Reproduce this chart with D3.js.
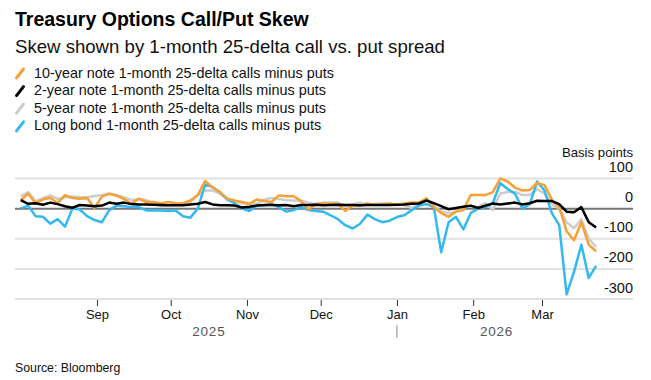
<!DOCTYPE html>
<html><head><meta charset="utf-8">
<script src="https://cdn.jsdelivr.net/npm/d3@7"></script>
<style>
body{margin:0;background:#fff;}
text{font-family:"Liberation Sans",Arial,Helvetica,sans-serif;}
</style></head><body>
<svg id="c" width="651" height="380"></svg>
<script>
const dates = ["2025-08-01","2025-08-04","2025-08-07","2025-08-10","2025-08-13","2025-08-16","2025-08-19","2025-08-22","2025-08-25","2025-08-28",
"2025-08-31","2025-09-03","2025-09-06","2025-09-09","2025-09-12","2025-09-15","2025-09-18","2025-09-21","2025-09-24","2025-09-27",
"2025-09-30","2025-10-03","2025-10-06","2025-10-09","2025-10-12","2025-10-15","2025-10-18","2025-10-21","2025-10-24","2025-10-27",
"2025-10-30","2025-11-02","2025-11-05","2025-11-08","2025-11-11","2025-11-14","2025-11-17","2025-11-20","2025-11-23","2025-11-26",
"2025-11-29","2025-12-02","2025-12-05","2025-12-08","2025-12-11","2025-12-14","2025-12-17","2025-12-20","2025-12-23","2025-12-26",
"2025-12-29","2026-01-01","2026-01-04","2026-01-07","2026-01-10","2026-01-13","2026-01-16","2026-01-19","2026-01-22","2026-01-25",
"2026-01-28","2026-01-31","2026-02-03","2026-02-06","2026-02-09","2026-02-12","2026-02-15","2026-02-18","2026-02-21","2026-02-24",
"2026-02-27","2026-03-02","2026-03-05","2026-03-08","2026-03-11","2026-03-14","2026-03-17","2026-03-20","2026-03-23"];

const tenYear = [27,50,18,30,36,18,45,35,33,35, 2,40,49,43,32,16,33,22,22,17, 22,18,18,27,45,92,70,55,33,27,
 22,16,30,25,22,44,41,41,25,-3, 15,17,16,16,-8,10,10,17,12,14, 17,12,17,20,20,34,5,-15,-27,-10,
 -5,45,45,45,55,100,90,70,60,62, 85,78,30,5,-75,-105,-45,-120,-142];
const twoYear = [28,16,18,13,20,15,8,3,12,10, 8,10,20,16,20,15,14,14,13,12, 11,11,11,14,16,22,14,11,11,10,
 4,6,10,12,12,11,12,8,12,12, 13,11,12,13,12,12,11,12,12,12, 12,13,14,16,17,27,18,8,-2,2,
 6,10,2,10,17,14,17,20,14,18, 26,25,25,15,-10,-12,5,-45,-63];
const fiveYear = [40,55,25,35,44,32,38,40,38,38, 42,45,50,45,38,28,32,28,18,8, 12,16,18,22,45,60,60,50,33,25,
 18,15,16,30,35,32,28,27,27,20, 15,20,20,20,8,15,20,12,15,17, 15,13,12,2,15,32,10,-10,-15,-10,
 5,6,6,18,-5,50,55,56,45,45, 65,50,15,0,-45,-65,-35,-100,-127];
const longBond = [0,10,-25,-27,-50,-35,-60,0,-3,-25, -38,-45,-5,10,8,5,5,-6,-5,-6, -8,-6,-25,-30,0,80,72,55,30,18,
 0,-8,10,10,16,5,-10,-5,5,-5, -8,-10,-22,-35,-55,-66,-50,-20,-35,-45, -40,-28,-22,-5,10,15,5,-145,-45,-27,
 -69,-15,0,5,18,85,65,50,0,15, 90,60,-15,-55,-285,-210,-120,-230,-190];

const seriesNames = ["10-year note 1-month 25-delta calls minus puts","2-year note 1-month 25-delta calls minus puts",
 "5-year note 1-month 25-delta calls minus puts","Long bond 1-month 25-delta calls minus puts"];
const seriesColors = ["#f7a035","#000000","#cccccc","#33b8f0"];
const yTicks = [100,0,-100,-200,-300];
const monthTicks = ["2025-09-01","2025-10-01","2025-11-01","2025-12-01","2026-01-01","2026-02-01","2026-03-01"];
const years = ["2025","2026"];

const parse = d3.utcParse("%Y-%m-%d");
const dd = dates.map(parse);
const svg = d3.select("#c");

const x = d3.scaleUtc().domain([new Date(Date.UTC(2025,6,29,16)), new Date(Date.UTC(2026,3,7))]).range([15,633]);
const y = d3.scaleLinear().domain([-300,100]).range([299,178.5]);

// title
svg.append("text").attr("x",15).attr("y",26).attr("font-size",19.5).attr("font-weight","bold").text("Treasury Options Call/Put Skew");
svg.append("text").attr("x",15).attr("y",52.5).attr("font-size",18.6).attr("fill","#111").text("Skew shown by 1-month 25-delta call vs. put spread");

// legend
const lg = svg.append("g");
seriesNames.forEach((n,i)=>{
  const by = 77.5 + i*17.6;
  lg.append("line").attr("x1",16.5).attr("y1",by+0.5).attr("x2",23.5).attr("y2",by-8.5).attr("stroke",seriesColors[i]).attr("stroke-width",3).attr("stroke-linecap","round");
  lg.append("text").attr("x",34).attr("y",by).attr("font-size",14.4).attr("fill","#111").text(n);
});

// gridlines
const g = svg.append("g");
g.selectAll("line.grid").data(yTicks).join("line")
  .attr("x1",15).attr("x2",633).attr("y1",d=>y(d)).attr("y2",d=>y(d))
  .attr("stroke",d=>d===0?"#777":"#e1e1e1").attr("stroke-width",2);
g.selectAll("text.yl").data(yTicks).join("text")
  .attr("x",633).attr("y",d=>y(d)-6.5).attr("text-anchor","end").attr("font-size",14.5).attr("fill","#111")
  .text(d=>d);
svg.append("text").attr("x",633).attr("y",157).attr("text-anchor","end").attr("font-size",13.2).attr("fill","#111").text("Basis points");

// x axis
const xa = svg.append("g").attr("transform","translate(0,300)")
  .call(d3.axisBottom(x).tickValues(monthTicks.map(parse)).tickFormat(d3.utcFormat("%b")).tickSize(6).tickPadding(4));
xa.select(".domain").remove();
xa.selectAll(".tick line").attr("stroke","#333");
xa.selectAll(".tick text").attr("font-size",13).attr("fill","#111").attr("font-family","Liberation Sans, Arial, sans-serif");

// year labels
const jan = parse("2026-01-01");
svg.append("line").attr("x1",x(jan)).attr("x2",x(jan)).attr("y1",325).attr("y2",338).attr("stroke","#888").attr("stroke-width",1);
svg.append("text").attr("x",(x(dd[0])+x(jan))/2).attr("y",336).attr("text-anchor","middle").attr("font-size",13.5).attr("fill","#555").attr("letter-spacing",0.8).text(years[0]);
svg.append("text").attr("x",(x(jan)+x(dd[dd.length-1]))/2).attr("y",336).attr("text-anchor","middle").attr("font-size",13.5).attr("fill","#555").attr("letter-spacing",0.8).text(years[1]);

// lines
const line = d3.line().x((d,i)=>x(dd[i])).y(d=>y(d));
const order = [[fiveYear,2],[longBond,3],[tenYear,0],[twoYear,1]];
order.forEach(([vals,ci])=>{
  svg.append("path").attr("d",line(vals)).attr("fill","none").attr("stroke",seriesColors[ci]).attr("stroke-width",2.5).attr("stroke-linejoin","round");
});

svg.append("text").attr("x",15).attr("y",372).attr("font-size",12.3).attr("fill","#111").text("Source: Bloomberg");
</script></body></html>
